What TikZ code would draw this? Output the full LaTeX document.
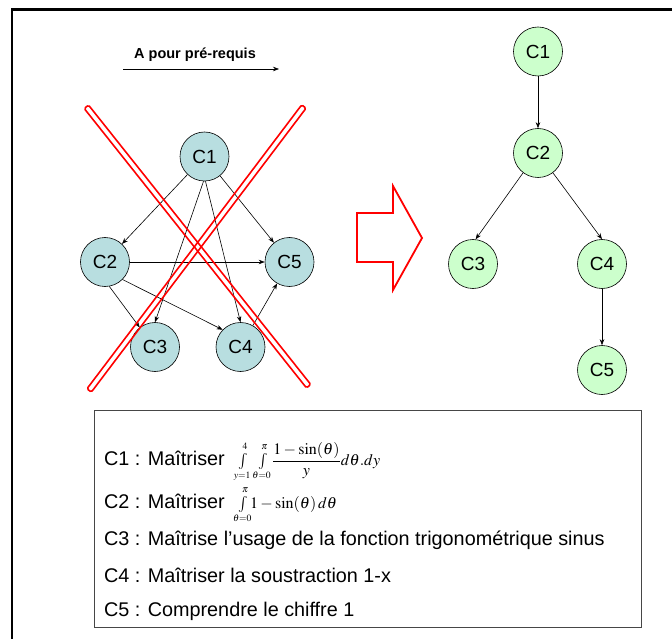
\documentclass[tikz,border=0pt]{standalone}
\usepackage{amsmath}
\usepackage{mathtools}
\usepackage{mathptmx}
\usepackage[no-math]{fontspec}
\setmainfont{Liberation Sans}
\usetikzlibrary{arrows.meta}
\definecolor{blnode}{RGB}{184,222,224}
\definecolor{grnode}{RGB}{204,255,204}
\definecolor{xred}{RGB}{255,0,0}
\definecolor{boxgray}{RGB}{70,70,70}
\tikzset{
 cnode/.style={circle, draw=black, line width=0.6pt, minimum size=49pt, inner sep=0pt, font=\fontsize{19}{19}\selectfont},
 bnode/.style={cnode, fill=blnode},
 gnode/.style={cnode, fill=grnode},
 arr/.style={-{Stealth[length=6pt,width=4.5pt]}, line width=0.6pt},
 crossbar/.style={draw=xred, line width=1.6pt, rounded corners=1.5pt, minimum height=5.5pt, inner sep=0pt},
 legtext/.style={anchor=base west, inner sep=0pt, font=\fontsize{19.8}{22}\selectfont}
}
\begin{document}
\begin{tikzpicture}[x=1pt,y=-1pt]
\useasboundingbox (0,0) rectangle (672,639);
\fill[white] (0,0) rectangle (672,639);
\draw[line width=2.5pt] (12,640) -- (12,9.5) -- (673,9.5);

% key
\coordinate (ka) at (123,69);
\coordinate (kb) at (279,69);
\draw[arr] (ka) -- (kb);
\node[font=\bfseries\fontsize{14.5}{15}\selectfont, inner sep=0pt] (kt) at (195,55) {A pour pré-requis};

% left graph
\node[bnode] (L1) at (204.5,156.5) {C1};
\node[bnode] (L2) at (105,262) {C2};
\node[bnode] (L5) at (289.5,262) {C5};
\node[bnode] (L3) at (155,347) {C3};
\node[bnode] (L4) at (240.5,347) {C4};
\draw[arr] (L1) -- (L2);
\draw[arr] (L1) -- (L5);
\draw[arr] ([xshift=-1pt]L1.south) -- (L3.north);
\draw[arr] ([xshift=1pt]L1.south) -- (L4.north);
\draw[arr] (L2) -- (L5);
\draw[arr] (L2.-80) -- (L3.128);
\draw[arr] (L2.-45) -- (L4.136);
\draw[arr] (L4) -- (L5);

% red cross
\node[crossbar, minimum width=357pt, rotate=-51.5] (xa) at (197.5,246.5) {};
\node[crossbar, minimum width=356pt, rotate=52.9] (xb) at (196.5,248.5) {};

% big arrow
\draw[xred, line width=1.8pt, line join=miter] (357,213) -- (393,213) -- (393,186) -- (422,238) -- (393,290) -- (393,262) -- (357,262) -- cycle;

% right graph
\node[gnode] (R1) at (538,51.5) {C1};
\node[gnode] (R2) at (538,153) {C2};
\node[gnode] (R3) at (473,264) {C3};
\node[gnode] (R4) at (602,264) {C4};
\node[gnode] (R5) at (602,370) {C5};
\draw[arr] (R1) -- (R2);
\draw[arr] (R2.-127) -- (R3.84);
\draw[arr] (R2.-53) -- (R4.north);
\draw[arr] (R4) -- (R5);

% legend
\node[draw=boxgray, line width=1.3pt, minimum width=547pt, minimum height=217pt, anchor=north west, inner sep=0pt] (lg) at (94,410) {};
\node[legtext] (t1) at (104,465) {C1 : Maîtriser\hspace{14pt}{\fontsize{16}{18}\selectfont$\textstyle\int\limits_{\mathclap{\scriptscriptstyle y=1}}^{\scriptscriptstyle 4}\mkern9mu\int\limits_{\mathclap{\scriptscriptstyle \theta=0}}^{\scriptscriptstyle \pi}\mkern3mu\displaystyle\frac{1-\sin(\theta)}{y}d\theta.dy$}};
\node[legtext] (t2) at (104,508) {C2 : Maîtriser\hspace{14pt}{\fontsize{16}{18}\selectfont$\textstyle\int\limits_{\mathclap{\scriptscriptstyle \theta=0}}^{\scriptscriptstyle \pi}1-\sin(\theta)\,d\theta$}};
\node[legtext] (t3) at (104,545) {C3 : Maîtrise l’usage de la fonction trigonométrique sinus};
\node[legtext] (t4) at (104,582) {C4 : Maîtriser la soustraction 1-x};
\node[legtext] (t5) at (104,616) {C5 : Comprendre le chiffre 1};
\end{tikzpicture}
\end{document}
